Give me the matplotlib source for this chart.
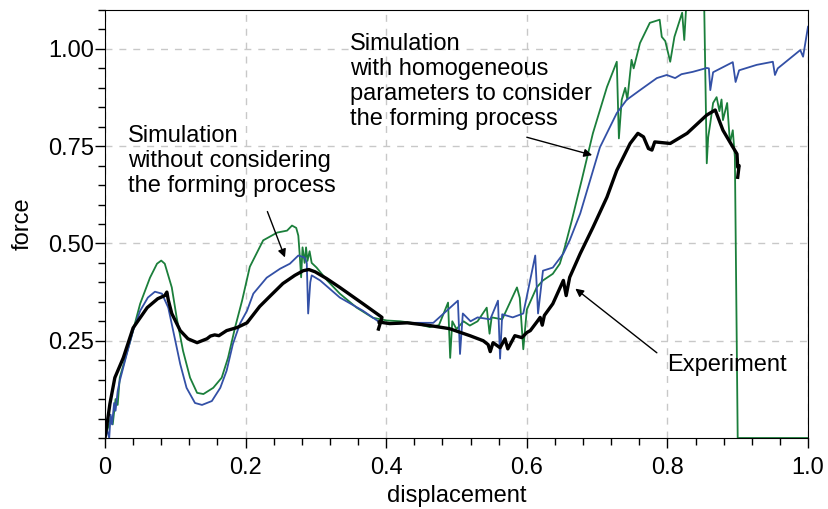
import numpy as np
import matplotlib
matplotlib.use("Agg")
import matplotlib.pyplot as plt
from matplotlib.ticker import MultipleLocator

# ── Data ──────────────────────────────────────────────────────────────
# Experiment: two recorded segments, separated by a NaN break
exp_d = [0, 0.004, 0.007, 0.014, 0.026, 0.04, 0.06, 0.075, 0.085, 0.088, 0.09,
         0.095, 0.107, 0.118, 0.131, 0.145, 0.15, 0.156, 0.162, 0.173, 0.188,
         0.202, 0.22, 0.235, 0.253, 0.27, 0.282, 0.29, 0.299, 0.315, 0.334,
         0.367, 0.391, 0.394, 0.389,
         np.nan,
         0.39, 0.405, 0.43, 0.462, 0.49, 0.519, 0.538, 0.545, 0.548, 0.552,
         0.562, 0.569, 0.573, 0.583, 0.593, 0.6, 0.605, 0.615, 0.619, 0.622,
         0.625, 0.637, 0.652, 0.656, 0.661, 0.676, 0.694, 0.714, 0.728, 0.747,
         0.758, 0.766, 0.773, 0.778, 0.782, 0.804, 0.828, 0.856, 0.868, 0.879,
         0.893, 0.899, 0.9, 0.902, 0.9]
exp_f = [0, 0.05, 0.088, 0.155, 0.206, 0.283, 0.335, 0.358, 0.366, 0.375, 0.355,
         0.32, 0.276, 0.255, 0.245, 0.255, 0.262, 0.265, 0.263, 0.276, 0.284,
         0.296, 0.338, 0.365, 0.397, 0.418, 0.43, 0.433, 0.427, 0.41, 0.387,
         0.345, 0.314, 0.31, 0.28,
         np.nan,
         0.298, 0.294, 0.296, 0.289, 0.281, 0.263, 0.25, 0.24, 0.222, 0.245,
         0.232, 0.255, 0.229, 0.263, 0.258, 0.271, 0.276, 0.3, 0.31, 0.29,
         0.315, 0.345, 0.405, 0.366, 0.413, 0.474, 0.541, 0.619, 0.688, 0.757,
         0.783, 0.774, 0.744, 0.74, 0.761, 0.757, 0.783, 0.83, 0.843, 0.791,
         0.748, 0.73, 0.696, 0.70, 0.67]

# Simulation without considering the forming process (blue)
blue_d = [0, 0.003, 0.006, 0.008, 0.01, 0.013, 0.015, 0.018, 0.021, 0.031, 0.04,
          0.05, 0.061, 0.071, 0.081, 0.09, 0.1, 0.107, 0.116, 0.128, 0.138,
          0.152, 0.164, 0.173, 0.182, 0.192, 0.202, 0.211, 0.23, 0.249, 0.263,
          0.275, 0.284, 0.287, 0.289, 0.292, 0.294, 0.306, 0.334, 0.367, 0.391,
          0.41, 0.434, 0.467, 0.502, 0.505, 0.509, 0.52, 0.53, 0.548, 0.559,
          0.562, 0.565, 0.58, 0.595, 0.612, 0.616, 0.623, 0.637, 0.652, 0.661,
          0.676, 0.69, 0.704, 0.728, 0.742, 0.761, 0.785, 0.799, 0.811, 0.82,
          0.836, 0.856, 0.859, 0.861, 0.865, 0.893, 0.897, 0.902, 0.927, 0.95,
          0.953, 0.957, 0.989, 0.993, 1.0]
blue_f = [0, 0.02, 0.0, 0.06, 0.035, 0.09, 0.07, 0.12, 0.147, 0.216, 0.276,
          0.327, 0.361, 0.376, 0.371, 0.335, 0.25, 0.19, 0.129, 0.09, 0.085,
          0.095, 0.129, 0.173, 0.242, 0.294, 0.327, 0.371, 0.412, 0.435, 0.448,
          0.469, 0.464, 0.45, 0.32, 0.40, 0.418, 0.405, 0.361, 0.327, 0.297,
          0.294, 0.296, 0.296, 0.353, 0.216, 0.32, 0.30, 0.31, 0.305, 0.353,
          0.204, 0.318, 0.31, 0.32, 0.469, 0.32, 0.43, 0.438, 0.474, 0.508,
          0.577, 0.662, 0.747, 0.835, 0.869, 0.894, 0.925, 0.933, 0.925, 0.935,
          0.941, 0.951, 0.95, 0.894, 0.94, 0.966, 0.915, 0.945, 0.959, 0.967,
          0.933, 0.95, 0.997, 0.98, 1.057]

# Simulation with homogeneous parameters (green)
green_d = [0, 0.008, 0.011, 0.015, 0.018, 0.021, 0.036, 0.05, 0.064, 0.074, 0.08,
           0.085, 0.095, 0.102, 0.111, 0.121, 0.131, 0.14, 0.154, 0.166, 0.175,
           0.185, 0.195, 0.206, 0.225, 0.245, 0.259, 0.266, 0.272, 0.275, 0.277,
           0.279, 0.281, 0.284, 0.286, 0.288, 0.291, 0.294, 0.301, 0.316, 0.334,
           0.358, 0.381, 0.401, 0.42, 0.44, 0.462, 0.475, 0.488, 0.491, 0.494,
           0.5, 0.51, 0.519, 0.53, 0.543, 0.547, 0.55, 0.565, 0.586, 0.59,
           0.595, 0.6, 0.614, 0.623, 0.637, 0.647, 0.654, 0.664, 0.671, 0.678,
           0.694, 0.714, 0.728, 0.731, 0.735, 0.74, 0.743, 0.749, 0.752, 0.761,
           0.775, 0.789, 0.792, 0.797, 0.804, 0.81, 0.821, 0.824, 0.828, 0.852,
           0.856, 0.858, 0.861, 0.865, 0.87, 0.874, 0.877, 0.879, 0.885, 0.889,
           0.893, 0.896, 0.9, 1.0]
green_f = [0, 0.05, 0.035, 0.1, 0.085, 0.155, 0.25, 0.345, 0.412, 0.448, 0.456,
           0.448, 0.387, 0.309, 0.224, 0.155, 0.116, 0.113, 0.129, 0.155, 0.206,
           0.284, 0.353, 0.44, 0.508, 0.528, 0.533, 0.546, 0.54, 0.52, 0.47,
           0.413, 0.49, 0.45, 0.49, 0.455, 0.48, 0.45, 0.438, 0.405, 0.371,
           0.335, 0.309, 0.302, 0.3, 0.295, 0.285, 0.29, 0.348, 0.206, 0.3,
           0.28, 0.3, 0.289, 0.3, 0.335, 0.268, 0.31, 0.305, 0.387, 0.36,
           0.228, 0.33, 0.387, 0.405, 0.422, 0.448, 0.49, 0.559, 0.611, 0.662,
           0.783, 0.902, 0.967, 0.77, 0.869, 0.90, 0.87, 0.972, 0.95, 1.015,
           1.067, 1.075, 1.031, 1.02, 0.967, 1.031, 1.093, 1.023, 1.15, 1.15,
           0.706, 0.773, 0.809, 0.861, 0.876, 0.84, 0.87, 0.817, 0.861, 0.758,
           0.791, 0.722, 0.0, 0.0]

x_ticks = [0, 0.2, 0.4, 0.6, 0.8, 1.0]
x_ticklabels = ["0", "0.2", "0.4", "0.6", "0.8", "1.0"]
y_ticks = [0.25, 0.5, 0.75, 1.0]
y_ticklabels = ["0.25", "0.50", "0.75", "1.00"]

plt.rcParams["font.family"] = ["Liberation Sans", "DejaVu Sans"]
FS = 17

fig = plt.figure(figsize=(8.29, 5.09), dpi=100)
ax = fig.add_axes([105 / 829, 1 - 438 / 509, 703 / 829, 428 / 509])

GREEN = "#1b7f3b"
BLUE = "#3350a6"

ax.plot(green_d, green_f, color=GREEN, lw=1.3, zorder=2)
ax.plot(blue_d, blue_f, color=BLUE, lw=1.3, zorder=3)
ax.plot(exp_d, exp_f, color="black", lw=2.4, zorder=4)

ax.set_xlim(0, 1.0)
ax.set_ylim(0, 1.1)
ax.set_xticks(x_ticks)
ax.set_xticklabels(x_ticklabels)
ax.set_yticks(y_ticks)
ax.set_yticklabels(y_ticklabels)
ax.xaxis.set_minor_locator(MultipleLocator(0.04))
ax.yaxis.set_minor_locator(MultipleLocator(0.05))
ax.tick_params(which="major", direction="out", length=7, width=1, labelsize=FS)
ax.tick_params(axis="x", which="major", pad=7)
ax.tick_params(axis="y", which="major", pad=1)
ax.tick_params(which="minor", direction="out", length=5, width=1)
ax.grid(True, which="major", linestyle=(0, (5, 5)), color="#c8c8c8", lw=1)
ax.set_axisbelow(True)

ax.set_xlabel("displacement", fontsize=FS, labelpad=4)
ax.set_ylabel("force", fontsize=FS, labelpad=10)

arrow = dict(arrowstyle="-|>", color="black", lw=1, mutation_scale=12,
             shrinkA=0, shrinkB=0)
ax.text(0.033, 0.805, "Simulation\nwithout considering\nthe forming process",
        fontsize=FS, va="top", ha="left", linespacing=1.17)
ax.annotate("", xy=(0.256, 0.464), xytext=(0.231, 0.582), arrowprops=arrow)

ax.text(0.349, 1.04,
        "Simulation\nwith homogeneous\nparameters to consider\nthe forming process",
        fontsize=FS, va="top", ha="left", linespacing=1.17)
ax.annotate("", xy=(0.693, 0.727), xytext=(0.6, 0.773), arrowprops=arrow)

ax.text(0.8, 0.173, "Experiment", fontsize=FS, va="baseline", ha="left")
ax.annotate("", xy=(0.669, 0.384), xytext=(0.785, 0.219), arrowprops=arrow)

fig.savefig("out.png", dpi=100)
